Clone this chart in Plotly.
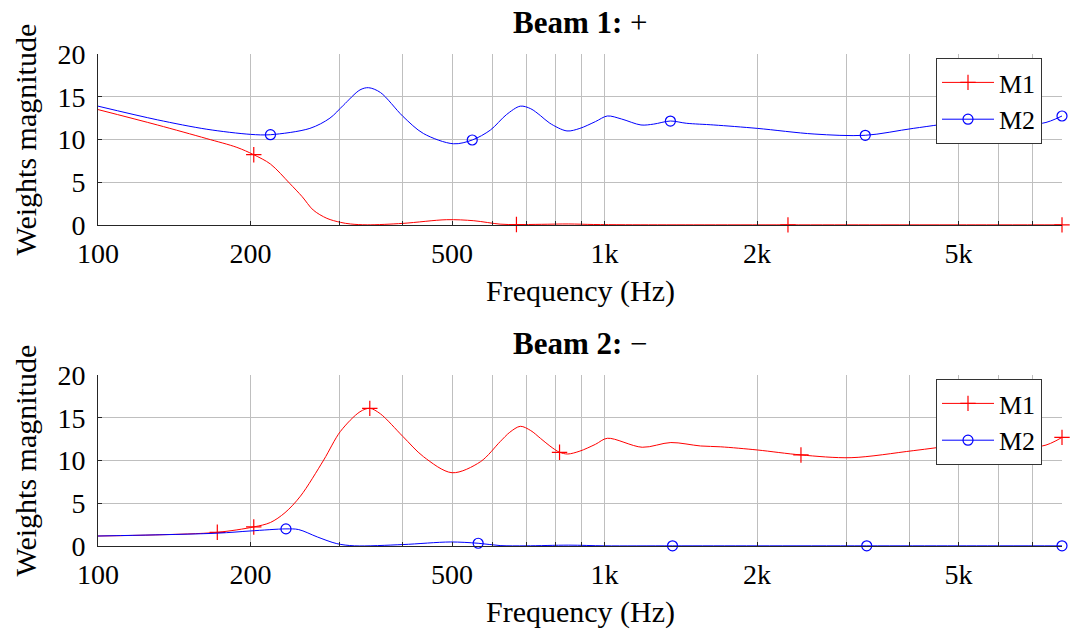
import math
import plotly.graph_objects as go

# ---- data -------------------------------------------------------------
# Beam 1 (+)
b1_m1_freq = [100, 131, 164, 188, 203, 219, 239, 253, 266, 283, 301, 315, 340, 400, 488, 552, 622, 670,
              750, 850, 950, 1100, 1500, 2302, 3500, 5000, 8000]
b1_m1_mag = [13.5, 11.7, 10.1, 9.08, 8.22, 7.13, 4.87, 3.31, 1.75, 0.78, 0.31, 0.12, 0.02, 0.19, 0.62,
             0.5, 0.1, 0.05, 0.08, 0.12, 0.06, 0.03, 0.02, 0.02, 0.02, 0.02, 0.02]
b1_m1_marks = [203, 670, 2302, 8000]

b1_m2_freq = [100, 131, 164, 200, 219, 262, 287, 305, 329, 342, 361, 400, 439, 503, 548, 595, 640, 682,
              715, 747, 780, 843, 894, 960, 1013, 1080, 1180, 1250, 1349, 1450, 1643, 2003, 2592, 3271,
              4068, 5200, 6300, 7311, 8000]
b1_m2_mag = [13.9, 12.3, 11.2, 10.6, 10.56, 11.3, 12.5, 14.0, 15.8, 16.06, 15.5, 12.7, 10.7, 9.5, 9.94,
             11.1, 12.9, 13.9, 13.6, 12.8, 11.9, 11.0, 11.3, 12.1, 12.75, 12.4, 11.7, 11.8, 12.16, 11.9,
             11.7, 11.3, 10.64, 10.49, 11.3, 12.1, 12.2, 11.9, 12.75]
b1_m2_marks = [219, 548, 1349, 3271, 8000]

# Beam 2 (-)
b2_m1_freq = [100, 130, 172, 203, 219, 234, 251, 279, 301, 329, 344, 361, 400, 439, 500, 569, 622, 650,
              682, 715, 747, 780, 815, 846, 894, 960, 1013, 1187, 1352, 1547, 1696, 2003, 2442, 3067,
              4068, 5000, 6300, 7311, 8000]
b2_m1_mag = [1.17, 1.3, 1.6, 2.23, 2.75, 3.9, 5.83, 10.06, 13.4, 15.7, 16.1, 15.46, 12.8, 10.45, 8.57,
             9.86, 12.2, 13.3, 14.0, 13.5, 12.6, 11.7, 10.96, 10.76, 11.1, 11.9, 12.6, 11.55, 12.1, 11.7,
             11.6, 11.23, 10.65, 10.33, 11.15, 11.8, 12.2, 11.7, 12.7]
b2_m1_marks = [172, 203, 344, 815, 2442, 8000]

b2_m2_freq = [100, 172, 200, 235, 249, 271, 296, 321, 400, 496, 563, 622, 700, 850, 1000, 1362, 2000,
              3293, 5000, 8000]
b2_m2_mag = [1.17, 1.5, 1.76, 2.0, 1.92, 1.06, 0.28, 0.02, 0.17, 0.47, 0.32, 0.05, 0.02, 0.1, 0.02,
             0.02, 0.02, 0.02, 0.02, 0.02]
b2_m2_marks = [235, 563, 1362, 3293, 8000]

x_major = [100, 200, 500, 1000, 2000, 5000]
x_major_text = ["100", "200", "500", "1k", "2k", "5k"]
x_minor = [300, 400, 600, 700, 800, 900, 3000, 4000, 6000, 7000, 8000]
y_ticks = [0, 5, 10, 15, 20]

# ---- styling ----------------------------------------------------------
FONT = "Liberation Serif, DejaVu Serif, serif"
TICK_FS = 28
LABEL_FS = 30
TITLE_FS = 31
LEGEND_FS = 26
GRID = "#bfbfbf"
AXIS = "#262626"
RED = "#ff0000"
BLUE = "#0000ff"

STYLE = {
    "M1": dict(color=RED, symbol="cross-thin", size=11),
    "M2": dict(color=BLUE, symbol="circle-open", size=10),
}

fig = go.Figure()


def add_series(freq, mag, marks, name, xa, ya, legend):
    st = STYLE[name]
    fig.add_trace(go.Scatter(
        x=freq, y=mag, mode="lines", xaxis=xa, yaxis=ya,
        line=dict(color=st["color"], width=1, shape="spline", smoothing=0.9),
        showlegend=False, cliponaxis=False, hoverinfo="skip"))
    idx = [freq.index(m) for m in marks]
    fig.add_trace(go.Scatter(
        x=[freq[i] for i in idx], y=[mag[i] for i in idx], mode="markers",
        xaxis=xa, yaxis=ya, showlegend=False, cliponaxis=False,
        marker=dict(symbol=st["symbol"], size=st["size"], color=st["color"],
                    line=dict(color=st["color"], width=1.2))))
    # legend entry (line + marker)
    fig.add_trace(go.Scatter(
        x=[None], y=[None], mode="lines+markers", name=name, xaxis=xa, yaxis=ya,
        legend=legend, line=dict(color=st["color"], width=1),
        marker=dict(symbol=st["symbol"], size=st["size"], color=st["color"],
                    line=dict(color=st["color"], width=1.2))))


add_series(b1_m1_freq, b1_m1_mag, b1_m1_marks, "M1", "x", "y", "legend")
add_series(b1_m2_freq, b1_m2_mag, b1_m2_marks, "M2", "x", "y", "legend")
add_series(b2_m1_freq, b2_m1_mag, b2_m1_marks, "M1", "x2", "y2", "legend2")
add_series(b2_m2_freq, b2_m2_mag, b2_m2_marks, "M2", "x2", "y2", "legend2")

W, H = 1072, 631
ML, MR, MT, MB = 98, 10, 54, 85
plot_h = H - MT - MB
panel_h = 171
top_dom = [1 - panel_h / plot_h, 1]
bot_dom = [0, panel_h / plot_h]


def xaxis(anchor):
    return dict(
        type="log", range=[2, math.log10(8000)], anchor=anchor,
        tickvals=x_major, ticktext=x_major_text, tickmode="array",
        showgrid=True, gridcolor=GRID, gridwidth=1,
        ticks="inside", ticklen=4, tickcolor=AXIS, tickwidth=1,
        minor=dict(tickvals=x_minor, showgrid=True, gridcolor=GRID, gridwidth=1,
                   ticks="inside", ticklen=4, tickcolor=AXIS, tickwidth=1),
        showline=True, linecolor=AXIS, linewidth=1, mirror=False, zeroline=False,
        tickfont=dict(family=FONT, size=TICK_FS, color="black"), ticklabelstandoff=3,
    )


def yaxis(anchor, dom):
    return dict(
        range=[0, 20], domain=dom, anchor=anchor, tickvals=y_ticks, tickmode="array",
        showgrid=True, gridcolor=GRID, gridwidth=1,
        ticks="inside", ticklen=4, tickcolor=AXIS, tickwidth=1,
        showline=True, linecolor=AXIS, linewidth=1, zeroline=False,
        tickfont=dict(family=FONT, size=TICK_FS, color="black"), ticklabelstandoff=6,
    )


legend_style = dict(
    bgcolor="white", bordercolor="#333333", borderwidth=1,
    font=dict(family=FONT, size=LEGEND_FS, color="black"),
    xanchor="right", yanchor="top", x=(1042 - ML) / (W - ML - MR),
    tracegroupgap=0, itemwidth=52,
)

ann = []
for dom, title in ((top_dom, "<b>Beam 1:</b> +"), (bot_dom, "<b>Beam 2:</b> −")):
    top_px = MT + (1 - dom[1]) * plot_h
    bottom_px = top_px + panel_h
    ann.append(dict(text=title, xref="paper", yref="paper", x=0.5,
                    y=1 - (top_px - 32 - MT) / plot_h, xanchor="center", yanchor="middle",
                    showarrow=False, font=dict(family=FONT, size=TITLE_FS, color="black")))
    ann.append(dict(text="Frequency (Hz)", xref="paper", yref="paper", x=0.5,
                    y=1 - (bottom_px + 66 - MT) / plot_h, xanchor="center", yanchor="middle",
                    showarrow=False, font=dict(family=FONT, size=LABEL_FS, color="black")))
    ann.append(dict(text="Weights magnitude", xref="paper", yref="paper",
                    x=(25 - ML) / (W - ML - MR), y=(dom[0] + dom[1]) / 2,
                    xanchor="center", yanchor="middle", textangle=-90,
                    showarrow=False, font=dict(family=FONT, size=LABEL_FS, color="black")))

fig.update_layout(
    width=W, height=H, autosize=False,
    margin=dict(l=ML, r=MR, t=MT, b=MB, pad=0),
    paper_bgcolor="white", plot_bgcolor="white",
    xaxis=xaxis("y"), yaxis=yaxis("x", top_dom),
    xaxis2=xaxis("y2"), yaxis2=yaxis("x2", bot_dom),
    legend=dict(legend_style, y=1 - (58 - MT) / plot_h),
    legend2=dict(legend_style, y=1 - (379 - MT) / plot_h),
    annotations=ann,
    showlegend=True,
)

fig.write_html("out.html", config={"displayModeBar": False})
